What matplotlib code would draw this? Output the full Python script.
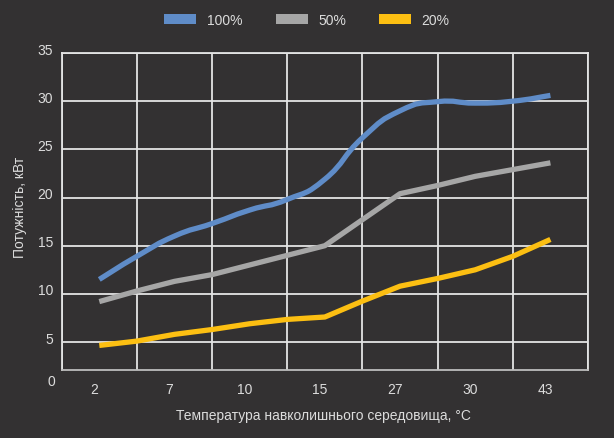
import matplotlib
matplotlib.use("Agg")
import matplotlib.pyplot as plt
from matplotlib.patches import Patch, PathPatch
from matplotlib.path import Path
from matplotlib.transforms import ScaledTranslation

plt.rcParams['font.family'] = ['Liberation Sans', 'DejaVu Sans']

# categories (ambient temperature, °C)
categories = ['2', '7', '10', '15', '27', '30', '43']
# readings positions in category units (category centres at i+0.5, plus the grid lines between)
x_pos = [0.5, 1.0, 1.5, 2.0, 2.5, 3.0, 3.5, 4.0, 4.5, 5.0, 5.5, 6.0, 6.5]
power_100 = [11.5, 13.9, 16.0, 17.3, 18.7, 19.8, 21.9, 26.2, 29.0, 29.95, 29.8, 30.0, 30.6]
power_50 = [9.2, 10.3, 11.3, 12.0, 13.0, 14.0, 15.0, 17.7, 20.4, 21.25, 22.2, 22.9, 23.6]
power_20 = [4.65, 5.1, 5.8, 6.3, 6.9, 7.35, 7.6, 9.25, 10.8, 11.6, 12.5, 13.9, 15.65]
series_labels = ['100%', '50%', '20%']
y_ticks = [5, 10, 15, 20, 25, 30, 35]
y_zero_label = '0'

bg = '#333132'
txt = '#dcdcdc'
grid_c = '#e4e4e4'
colors = ['#5f8cc8', '#a6a6a6', '#fcbf12']
smooth = [True, False, False]


def smooth_path(xs, ys, t=0.5):
    """Catmull-Rom style cubic Bezier path through the given points."""
    verts = [(xs[0], ys[0])]
    codes = [Path.MOVETO]
    n = len(xs)
    for i in range(n - 1):
        x0, y0 = (xs[i - 1], ys[i - 1]) if i > 0 else (xs[i], ys[i])
        x1, y1 = xs[i], ys[i]
        x2, y2 = xs[i + 1], ys[i + 1]
        x3, y3 = (xs[i + 2], ys[i + 2]) if i + 2 < n else (x2, y2)
        c1 = (x1 + (x2 - x0) * t / 3, y1 + (y2 - y0) * t / 3)
        c2 = (x2 - (x3 - x1) * t / 3, y2 - (y3 - y1) * t / 3)
        verts += [c1, c2, (x2, y2)]
        codes += [Path.CURVE4] * 3
    return Path(verts, codes)


fig = plt.figure(figsize=(6.14, 4.39), dpi=100, facecolor=bg)
ax = fig.add_axes([61.7 / 614, 1 - 371 / 439, (588 - 61.7) / 614, (371 - 54) / 439])
ax.set_facecolor(bg)

for vals, c, sm in zip([power_100, power_50, power_20], colors, smooth):
    if sm:
        ax.add_patch(PathPatch(smooth_path(x_pos, vals, 0.8), facecolor='none', edgecolor=c, lw=3.8,
                               capstyle='butt', joinstyle='round', zorder=3))
    else:
        ax.plot(x_pos, vals, color=c, lw=3.8, solid_capstyle='butt', solid_joinstyle='round', zorder=3)

ax.set_xlim(0, len(categories))
ax.set_ylim(2.1, 35)

# grid lines
ax.set_xticks(range(0, len(categories) + 1), minor=False)
ax.set_xticklabels([])
ax.set_xticks([i + 0.5 for i in range(len(categories))], minor=True)
ax.set_xticklabels(categories, minor=True)
ax.set_yticks(y_ticks)
ax.set_yticklabels([str(v) for v in y_ticks])
ax.grid(True, which='major', color=grid_c, lw=1.3, zorder=1)
ax.tick_params(which='both', length=0, colors=txt, labelsize=10)
ax.tick_params(axis='x', which='minor', pad=9)
ax.tick_params(axis='y', pad=6)

for lab in ax.get_xticklabels(minor=True):
    lab.set_transform(lab.get_transform() + ScaledTranslation(-5 / 100, 0, fig.dpi_scale_trans))
for lab in ax.get_yticklabels():
    lab.set_transform(lab.get_transform() + ScaledTranslation(0, 5 / 100, fig.dpi_scale_trans))

ax.text(-6 / 526, -11 / 317, y_zero_label, transform=ax.transAxes, ha='right', va='center',
        color=txt, fontsize=10)

for s in ax.spines.values():
    s.set_color(grid_c)
    s.set_linewidth(1.3)
ax.spines['bottom'].set_color('#bdbdbd')

fig.text(323 / 614, 1 - 416 / 439, 'Температура навколишнього середовища, °C', ha='center', va='center',
         color=txt, fontsize=10)
fig.text(20 / 614, 1 - 207 / 439, 'Потужність, кВт', rotation=90, ha='center', va='center',
         color=txt, fontsize=10)

handles = [Patch(facecolor=c, edgecolor='none') for c in colors]
leg = fig.legend(handles, series_labels, loc='center', bbox_to_anchor=(0.5, 1 - 21 / 439), ncol=3,
                 frameon=False, fontsize=10, handlelength=2.3, handleheight=0.72,
                 handletextpad=0.75, columnspacing=2.4, labelcolor=txt)

fig.savefig('out.png', dpi=100, facecolor=bg)
